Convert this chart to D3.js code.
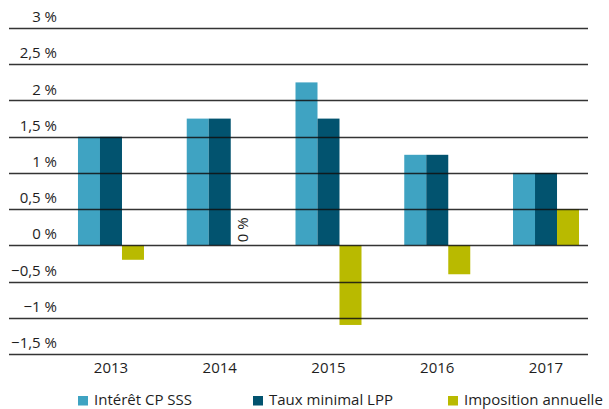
<!DOCTYPE html>
<html><head><meta charset="utf-8">
<script src="https://cdn.jsdelivr.net/npm/d3@7"></script>
<style>
html,body{margin:0;padding:0;background:#fff;}
svg text{font-family:"Open Sans",sans-serif;fill:#1e1e1e;}
</style></head>
<body><svg id="c" width="609" height="409"></svg>
<script>
const years = ["2013","2014","2015","2016","2017"];
const seriesNames = ["Intérêt CP SSS","Taux minimal LPP","Imposition annuelle"];
const interetCP = [1.5, 1.75, 2.25, 1.25, 1.0];
const tauxLPP = [1.5, 1.75, 1.75, 1.25, 1.0];
const imposition = [-0.2, 0, -1.1, -0.4, 0.5];
const yTicks = [-1.5, -1, -0.5, 0, 0.5, 1, 1.5, 2, 2.5, 3];
const colors = ["#3fa3c2", "#02536f", "#b9ba00"];

const svg = d3.select("#c");
const y = d3.scaleLinear().domain([-1.5, 3]).range([353.9, 28.1]);
const x = d3.scaleBand().domain(years).range([56.6, 600.4]).padding(0);
const xs = d3.scaleBand().domain(seriesNames).range([-33, 33]).padding(0);
const fmt = v => d3.format(",")(v).replace(".", ",") + " %";

const data = [interetCP, tauxLPP, imposition];
const gBars = svg.append("g");
seriesNames.forEach((s, si) => {
  gBars.selectAll(null).data(years).enter().append("rect")
    .attr("x", (d) => x(d) + x.bandwidth()/2 + xs(s))
    .attr("width", xs.bandwidth())
    .attr("y", (d, i) => y(Math.max(0, data[si][i])))
    .attr("height", (d, i) => Math.abs(y(data[si][i]) - y(0)))
    .attr("fill", colors[si]);
});

// zero label
years.forEach((yr, i) => {
  if (imposition[i] === 0) {
    const cx = x(yr) + x.bandwidth()/2 + xs(seriesNames[2]) + xs.bandwidth()/2;
    svg.append("text")
      .attr("transform", `translate(${cx + 6},${y(0) - 3}) rotate(-90)`)
      .attr("font-size", 15)
      .text("0 %");
  }
});

// gridlines on top
const ga = svg.append("g");
ga.selectAll("line.grid").data(yTicks).enter().append("line")
  .attr("x1", 9).attr("x2", 588)
  .attr("y1", d => Math.round(y(d)) + 0.5).attr("y2", d => Math.round(y(d)) + 0.5)
  .attr("stroke", "#111").attr("stroke-opacity", 0.85).attr("stroke-width", 1.3);
ga.selectAll("text.yl").data(yTicks).enter().append("text")
  .attr("x", 57).attr("y", d => y(d) - 6)
  .attr("text-anchor", "end").attr("font-size", 15)
  .text(fmt);

// x labels
svg.selectAll("text.xl").data(years).enter().append("text")
  .attr("x", d => x(d) + x.bandwidth()/2).attr("y", 373)
  .attr("text-anchor", "middle").attr("font-size", 15)
  .text(d => d);

// legend
const legX = [78, 253, 448];
seriesNames.forEach((s, i) => {
  svg.append("rect").attr("x", legX[i]).attr("y", 396).attr("width", 10).attr("height", 9.5).attr("fill", colors[i]);
  svg.append("text").attr("x", legX[i] + 16).attr("y", 405).attr("font-size", 15).text(s);
});
</script></body></html>
